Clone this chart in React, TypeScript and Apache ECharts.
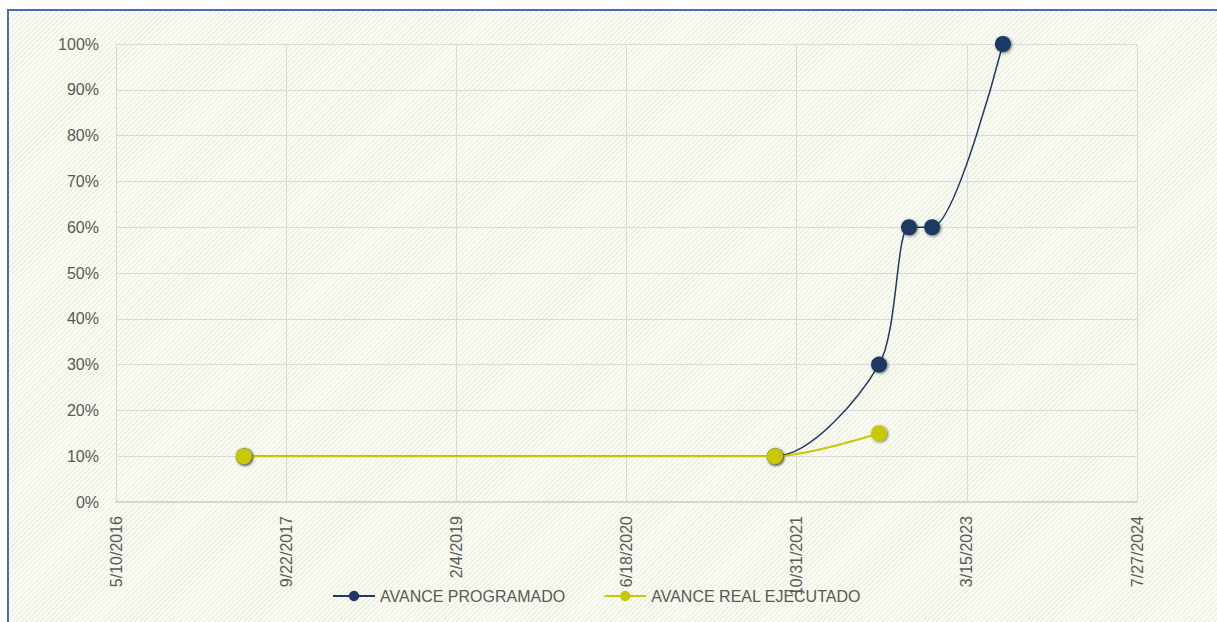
import React, { useEffect, useRef } from "react";
import * as echarts from "echarts";

const programadoDates = ["5/21/2017", "8/28/2021", "6/30/2022", "9/26/2022", "12/3/2022", "6/29/2023"];
const programadoValues = [0.1, 0.1, 0.3, 0.6, 0.6, 1.0];
const realDates = ["5/21/2017", "8/28/2021", "6/30/2022"];
const realValues = [0.1, 0.1, 0.15];
const seriesNames = ["AVANCE PROGRAMADO", "AVANCE REAL EJECUTADO"];
const xMinDate = "5/10/2016";
const xMaxDate = "7/27/2024";
const xStepDays = 500;

const EPOCH = Date.UTC(1899, 11, 30);
function toSerial(s: string): number {
  const [m, d, y] = s.split("/").map(Number);
  return Math.round((Date.UTC(y, m - 1, d) - EPOCH) / 86400000);
}
function fromSerial(n: number): string {
  const dt = new Date(EPOCH + Math.round(n) * 86400000);
  return `${dt.getUTCMonth() + 1}/${dt.getUTCDate()}/${dt.getUTCFullYear()}`;
}

const FONT = "'Liberation Sans Narrow', 'Arial Narrow', 'Liberation Sans', Arial, sans-serif";
const TXT = "#595959";
const BLUE = "#1f3864";
const YELLOW = "#c9c900";

export default function App() {
  const ref = useRef<HTMLDivElement>(null);
  useEffect(() => {
    if (!ref.current) return;
    const chart = echarts.init(ref.current, null, { renderer: "svg" });
    const shadow = {
      shadowBlur: 3,
      shadowColor: "rgba(0,0,0,0.55)",
      shadowOffsetX: 1,
      shadowOffsetY: 1,
    };
    chart.setOption({
      animation: false,
      backgroundColor: "transparent",
      grid: { left: 116, right: 80, top: 44, bottom: 120, containLabel: false },
      legend: {
        left: 327,
        top: 583,
        itemWidth: 42,
        itemHeight: 13,
        itemGap: 38,
        textStyle: { color: TXT, fontSize: 16, fontFamily: FONT },
        data: seriesNames,
      },
      xAxis: {
        type: "value",
        min: toSerial(xMinDate),
        max: toSerial(xMaxDate),
        interval: xStepDays,
        axisLine: { show: true, lineStyle: { color: "#d4d4d4", width: 2 } },
        axisTick: { show: false },
        splitLine: { show: true, lineStyle: { color: "#d9d9d9", width: 1 } },
        axisLabel: {
          rotate: 90,
          margin: 14,
          color: TXT,
          fontSize: 16,
          fontFamily: FONT,
          formatter: (v: number) => fromSerial(v),
        },
      },
      yAxis: {
        type: "value",
        min: 0,
        max: 1,
        interval: 0.1,
        axisLine: { show: false },
        axisTick: { show: false },
        splitLine: { show: true, lineStyle: { color: "#d9d9d9", width: 1 } },
        axisLabel: {
          margin: 17,
          color: TXT,
          fontSize: 16,
          fontFamily: FONT,
          formatter: (v: number) => `${Math.round(v * 100)}%`,
        },
      },
      series: [
        {
          name: seriesNames[0],
          type: "line",
          smooth: 0.28,
          data: programadoDates.map((d, i) => [toSerial(d), programadoValues[i]]),
          symbol: "circle",
          symbolSize: 16,
          lineStyle: { color: BLUE, width: 1.5 },
          itemStyle: { color: BLUE, ...shadow },
          z: 2,
        },
        {
          name: seriesNames[1],
          type: "line",
          smooth: 0.3,
          data: realDates.map((d, i) => [toSerial(d), realValues[i]]),
          symbol: "circle",
          symbolSize: 16,
          lineStyle: { color: YELLOW, width: 2 },
          itemStyle: { color: YELLOW, ...shadow },
          z: 3,
        },
      ],
    });
    return () => chart.dispose();
  }, []);
  return (
    <div style={{ position: "fixed", left: 0, top: 0, width: 1217, height: 622, background: "#fff", overflow: "hidden" }}>
      <div
        style={{
          position: "absolute",
          left: 7,
          top: 9,
          width: 1230,
          height: 640,
          boxSizing: "border-box",
          border: "2px solid #4a6cb0",
          background: "repeating-linear-gradient(135deg, #fafcf5 0px, #fafcf5 2px, #dfe8cd 2.5px, #fafcf5 3.5px)",
        }}
      />
      <div ref={ref} style={{ position: "absolute", left: 0, top: 0, width: 1217, height: 622 }} />
    </div>
  );
}
